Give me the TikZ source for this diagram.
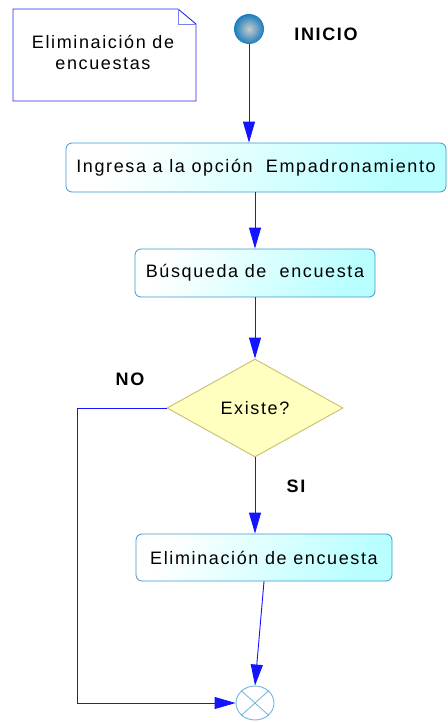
\documentclass[tikz,border=0pt]{standalone}
\usepackage{fontspec}
\setmainfont{Liberation Sans}[LetterSpace=9]
\usetikzlibrary{shapes.geometric,arrows.meta}
\definecolor{flowblue}{RGB}{20,20,255}
\definecolor{boxedge}{RGB}{60,150,210}
\definecolor{boxfill}{RGB}{185,255,255}
\definecolor{dfill}{RGB}{255,255,192}
\definecolor{dedge}{RGB}{200,190,110}
\definecolor{notee}{RGB}{40,40,240}
\definecolor{ballc}{RGB}{25,125,190}
\definecolor{endc}{RGB}{110,180,220}
\tikzset{
  actbox/.style={draw=boxedge, line width=0.8pt, rounded corners=6pt, left color=white, right color=boxfill, shading angle=60, font=\fontsize{18}{21}\selectfont, inner sep=0pt},
  decis/.style={diamond, draw=dedge, line width=0.9pt, fill=dfill, minimum width=176pt, minimum height=98pt, inner sep=0pt, font=\fontsize{18}{21}\selectfont},
  arr/.style={draw=flowblue, line width=0.9pt, -{Triangle[length=21pt,width=12pt]}},
  lbl/.style={font=\fontsize{18}{21}\selectfont\bfseries},
}
\begin{document}
\begin{tikzpicture}[x=1pt,y=-1pt]
\useasboundingbox (0,0) rectangle (447,722);
% note
\draw[notee, line width=0.9pt] (13,9) -- (178,9) -- (196,24) -- (196,101) -- (13,101) -- cycle;
\draw[notee!60, line width=0.8pt] (178,9) -- (178,24) -- (196,24);
\node[align=center, font=\fontsize{18}{21}\selectfont] (note) at (103,52) {Eliminaición de\\encuestas};
% start
\node[circle, minimum size=30pt, inner sep=0pt, inner color=gray!40, outer color=ballc] (start) at (249,29) {};
\node[lbl] (inicio) at (326,34) {INICIO};
% boxes
\node[actbox, minimum width=380pt, minimum height=49pt] (b1) at (256,167.5) {Ingresa a la opción\ \ Empadronamiento};
\node[actbox, minimum width=240pt, minimum height=48pt] (b2) at (255,273) {Búsqueda de\ \ encuesta};
\node[decis] (d) at (255,408) {Existe?};
\node[actbox, minimum width=256pt, minimum height=47pt] (b3) at (264,557.5) {Eliminación de encuesta};
\node[ellipse, draw=endc, line width=0.9pt, minimum width=38pt, minimum height=34pt, inner sep=0pt, fill=white] (end) at (255,703) {};
\draw[endc, line width=0.8pt] (end.north east) -- (end.south west) (end.north west) -- (end.south east);
\node[lbl] (no) at (130,379) {NO};
\node[lbl] (si) at (296,486) {SI};
% connectors
\draw[arr] (start.south) -- (start.south |- b1.north);
\draw[arr] (b2.north |- b1.south) -- (b2.north);
\draw[arr] (b2.south) -- (d.north);
\draw[arr] (d.south) -- (d.south |- b3.north);
\draw[arr] (b3.south) -- (end.north);
\coordinate (nol) at (77,408);
\draw[arr] (d.west) -- (nol) |- (end.west);
\end{tikzpicture}
\end{document}
